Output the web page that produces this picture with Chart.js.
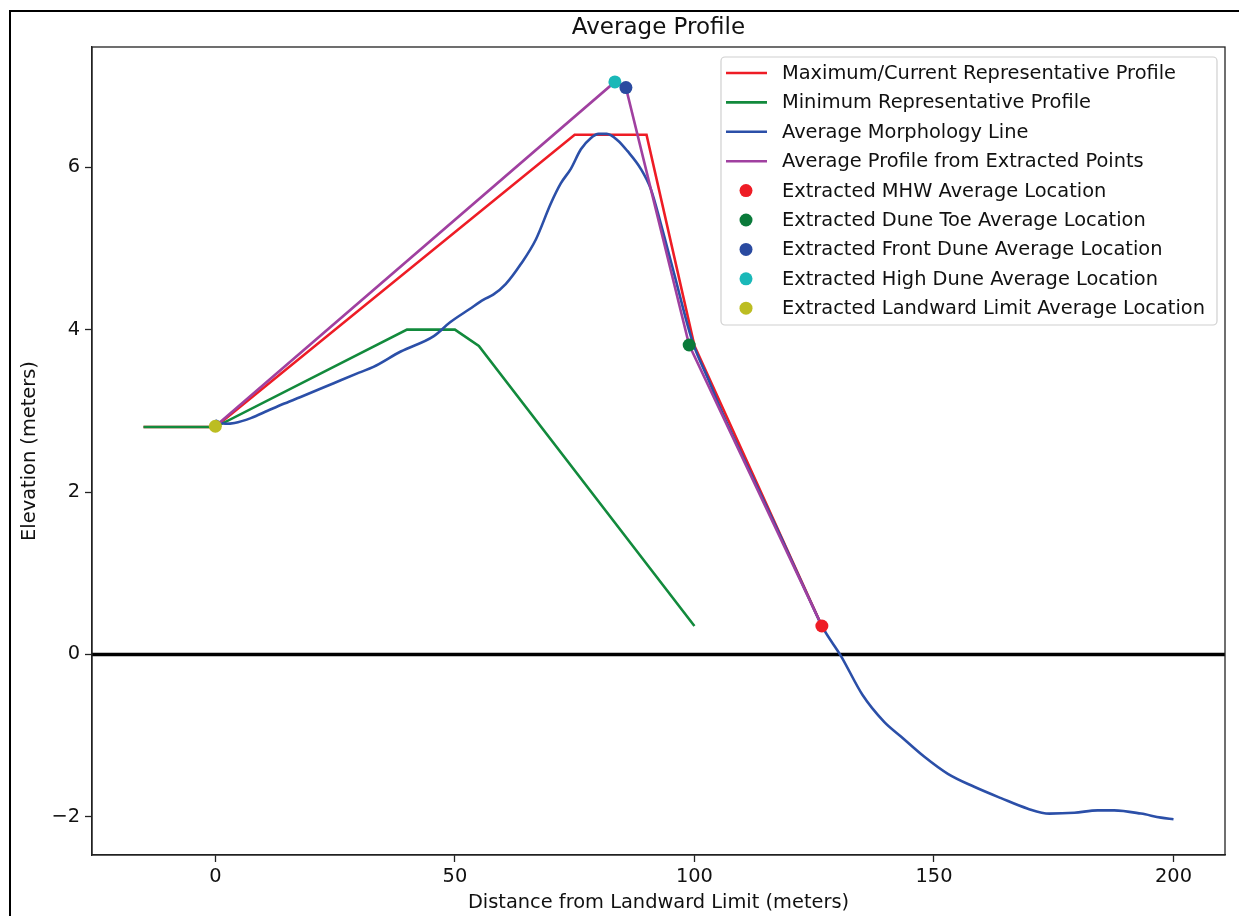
<!DOCTYPE html>
<html>
<head>
<meta charset="utf-8">
<script src="https://cdn.jsdelivr.net/npm/chart.js@4.4.0/dist/chart.umd.min.js"></script>
<style>
  html, body { margin: 0; padding: 0; background: #fff; }
  canvas { display: block; }
</style>
</head>
<body>
<canvas id="profile" width="1239" height="916"></canvas>
<script>
// representative profiles (distance m, elevation m)
var maxX = [-15, 0, 75, 90, 100, 126.6];
var maxY = [2.8, 2.8, 6.4, 6.4, 3.8, 0.35];
var minX = [-15, 0, 40, 50, 55, 100];
var minY = [2.8, 2.8, 4.0, 4.0, 3.8, 0.35];

// average morphology line
var morphX = [0, 2, 4, 7.4, 10.9, 14, 17.8, 24.7, 30, 33, 38.7, 45.6, 49, 53, 56, 58, 60.6, 63.8, 66.9, 70,
              72.1, 74.2, 76.3, 78.4, 80, 81.7, 84, 86, 88.8, 90.9, 93, 95.8, 98.6, 99.9, 102.8, 106, 112, 118,
              124, 126.8, 130.6, 135.1, 139.6, 143.1, 148, 152.9, 158.4, 164, 169.6, 174.1, 179.3, 184.2, 187.6,
              193.2, 197.4, 200];
var morphY = [2.88, 2.84, 2.85, 2.91, 3.0, 3.08, 3.17, 3.34, 3.47, 3.54, 3.73, 3.92, 4.09, 4.25, 4.37, 4.43, 4.56,
              4.81, 5.11, 5.55, 5.8, 5.98, 6.22, 6.36, 6.41, 6.41, 6.33, 6.2, 5.98, 5.73, 5.3, 4.68, 4.05, 3.8,
              3.4, 2.95, 2.2, 1.45, 0.68, 0.33, -0.02, -0.5, -0.83, -1.01, -1.26, -1.47, -1.63, -1.77, -1.90,
              -1.96, -1.95, -1.92, -1.92, -1.96, -2.01, -2.03];

// extracted average locations
var pointNames = ['MHW', 'Dune Toe', 'Front Dune', 'High Dune', 'Landward Limit'];
var pointX = [126.6, 98.9, 85.7, 83.4, 0];
var pointY = [0.35, 3.81, 6.98, 7.05, 2.81];
var pointColors = ['#ee1c25', '#0a7a3a', '#2a4aa0', '#1ab8b8', '#bcbd22'];

var xTicksStep = 50;
var yTicksStep = 2;

function pts(xs, ys) {
    return xs.map(function (x, i) { return { x: x, y: ys[i] }; });
}

// purple line joins the points landward -> seaward
var purpleX = pointX.slice().reverse();
var purpleY = pointY.slice().reverse();

var FONT = '"DejaVu Sans", "Liberation Sans", sans-serif';

var lineSets = [
    { label: 'Maximum/Current Representative Profile', data: pts(maxX, maxY), borderColor: '#ee1c25', order: 8 },
    { label: 'Minimum Representative Profile', data: pts(minX, minY), borderColor: '#128a3c', order: 7 },
    { label: 'Average Morphology Line', data: pts(morphX, morphY), borderColor: '#2b4fa8', order: 6, cubicInterpolationMode: 'monotone' },
    { label: 'Average Profile from Extracted Points', data: pts(purpleX, purpleY), borderColor: '#a040a0', order: 5 }
].map(function (d) {
    d.showLine = true;
    d.borderWidth = 2.6;
    d.pointRadius = 0;
    d.backgroundColor = d.borderColor;
    d.fill = false;
    return d;
});

var dotSets = pointNames.map(function (n, i) {
    return {
        label: 'Extracted ' + n + ' Average Location',
        data: [{ x: pointX[i], y: pointY[i] }],
        showLine: false,
        pointRadius: 6.5,
        pointBorderWidth: 0,
        backgroundColor: pointColors[i],
        borderColor: pointColors[i],
        order: i
    };
});

var figurePlugin = {
    id: 'figure',
    beforeDatasetsDraw: function (chart) {
        var c = chart.ctx, a = chart.chartArea;
        var y0 = chart.scales.y.getPixelForValue(0);
        c.save();
        c.strokeStyle = '#000';
        c.lineWidth = 3.5;
        c.beginPath();
        c.moveTo(a.left, y0);
        c.lineTo(a.right, y0);
        c.stroke();
        c.restore();
    },
    afterDraw: function (chart) {
        var c = chart.ctx, a = chart.chartArea;
        c.save();
        // axes frame
        c.strokeStyle = '#222';
        c.lineWidth = 1.3;
        c.strokeRect(a.left, a.top, a.right - a.left, a.bottom - a.top);
        // outer border
        c.strokeStyle = '#000';
        c.lineWidth = 2;
        c.beginPath();
        c.moveTo(10, 916);
        c.lineTo(10, 11);
        c.lineTo(1239, 11);
        c.stroke();

        // titles
        c.fillStyle = '#111';
        c.textAlign = 'center';
        c.textBaseline = 'middle';
        c.font = '23px ' + FONT;
        c.fillText('Average Profile', (a.left + a.right) / 2, 28);
        c.font = '19.4px ' + FONT;
        c.fillText('Distance from Landward Limit (meters)', (a.left + a.right) / 2, 903);
        c.save();
        c.translate(30, (a.top + a.bottom) / 2);
        c.rotate(-Math.PI / 2);
        c.fillText('Elevation (meters)', 0, 0);
        c.restore();

        // legend
        var bx = 721, by = 57, bw = 496, bh = 268, r = 4;
        c.fillStyle = 'rgba(255,255,255,0.8)';
        c.strokeStyle = '#d0d0d0';
        c.lineWidth = 1.2;
        c.beginPath();
        c.moveTo(bx + r, by);
        c.arcTo(bx + bw, by, bx + bw, by + bh, r);
        c.arcTo(bx + bw, by + bh, bx, by + bh, r);
        c.arcTo(bx, by + bh, bx, by, r);
        c.arcTo(bx, by, bx + bw, by, r);
        c.closePath();
        c.fill();
        c.stroke();

        c.textAlign = 'left';
        c.font = '19.4px ' + FONT;
        chart.data.datasets.forEach(function (d, i) {
            var ry = 73 + i * 29.4;
            if (d.showLine) {
                c.strokeStyle = d.borderColor;
                c.lineWidth = 2.6;
                c.beginPath();
                c.moveTo(726, ry);
                c.lineTo(767, ry);
                c.stroke();
            } else {
                c.fillStyle = d.backgroundColor;
                c.beginPath();
                c.arc(746, ry, 6.5, 0, Math.PI * 2);
                c.fill();
            }
            c.fillStyle = '#111';
            c.fillText(d.label, 782, ry + 1);
        });
        c.restore();
    }
};

var tickFont = { family: FONT, size: 19.4 };

new Chart(document.getElementById('profile').getContext('2d'), {
    type: 'scatter',
    data: { datasets: lineSets.concat(dotSets) },
    options: {
        responsive: false,
        animation: false,
        devicePixelRatio: 1,
        layout: { padding: { top: 47, right: 14, left: 0, bottom: 0 } },
        plugins: {
            legend: { display: false },
            title: { display: false },
            tooltip: { enabled: false }
        },
        scales: {
            x: {
                type: 'linear',
                min: -25.75,
                max: 210.75,
                ticks: { stepSize: xTicksStep, includeBounds: false, font: tickFont, color: '#111', padding: 3, maxRotation: 0 },
                grid: { drawOnChartArea: false, tickLength: 7, tickColor: '#222', tickWidth: 1.3 },
                border: { display: true, color: '#222', width: 1.3 },
                afterFit: function (s) { s.height = 61; }
            },
            y: {
                type: 'linear',
                min: -2.47,
                max: 7.48,
                ticks: {
                    stepSize: yTicksStep, includeBounds: false, font: tickFont, color: '#111', padding: 5,
                    callback: function (v) { return v < 0 ? '\u2212' + Math.abs(v) : String(v); }
                },
                grid: { drawOnChartArea: false, tickLength: 7, tickColor: '#222', tickWidth: 1.3 },
                border: { display: true, color: '#222', width: 1.3 },
                afterFit: function (s) { s.width = 92; }
            }
        }
    },
    plugins: [figurePlugin]
});
</script>
</body>
</html>
